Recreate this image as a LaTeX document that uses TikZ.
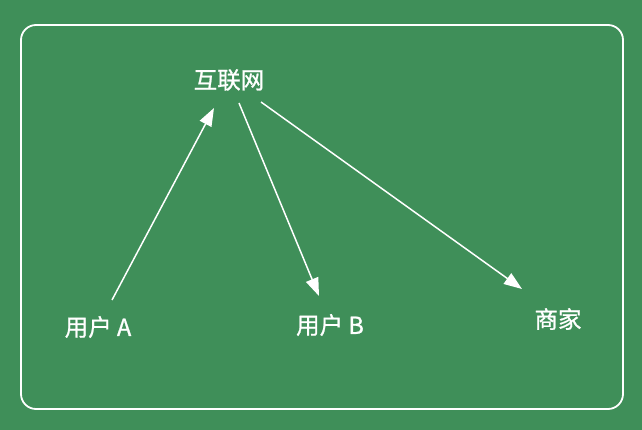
\documentclass[tikz,border=0pt]{standalone}
\usepackage{fontspec}
\setmainfont{Noto Sans CJK SC}
\newfontfamily\lblfont{Noto Sans CJK SC}[FakeBold=0.9]
\usetikzlibrary{arrows.meta}
\definecolor{bggreen}{RGB}{63,143,89}
\begin{document}
\begin{tikzpicture}[x=1pt,y=-1pt,
  lbl/.style={text=white,font=\lblfont\fontsize{23.5}{26}\selectfont,inner sep=0pt},
  conn/.style={white,line width=1.5pt,-{Triangle[length=18pt,width=13pt]}}]
\fill[bggreen] (0,0) rectangle (642,430);
\useasboundingbox (0,0) rectangle (642,430);
\draw[white,line width=1.8pt,rounded corners=15pt] (21,25) rectangle (623,409);
\node[lbl] (net) at (229,80) {互联网};
\node[lbl] (ua) at (98,327) {用户 A};
\node[lbl] (ub) at (330,325) {用户 B};
\node[lbl] (shop) at (558,319) {商家};
\coordinate (a1) at (112,300);
\coordinate (a2) at (214,108);
\coordinate (b1) at (239,103);
\coordinate (b2) at (319,296);
\coordinate (c1) at (261,102);
\coordinate (c2) at (522,289);
\draw[conn] (a1) -- (a2);
\draw[conn] (b1) -- (b2);
\draw[conn] (c1) -- (c2);
\end{tikzpicture}
\end{document}
